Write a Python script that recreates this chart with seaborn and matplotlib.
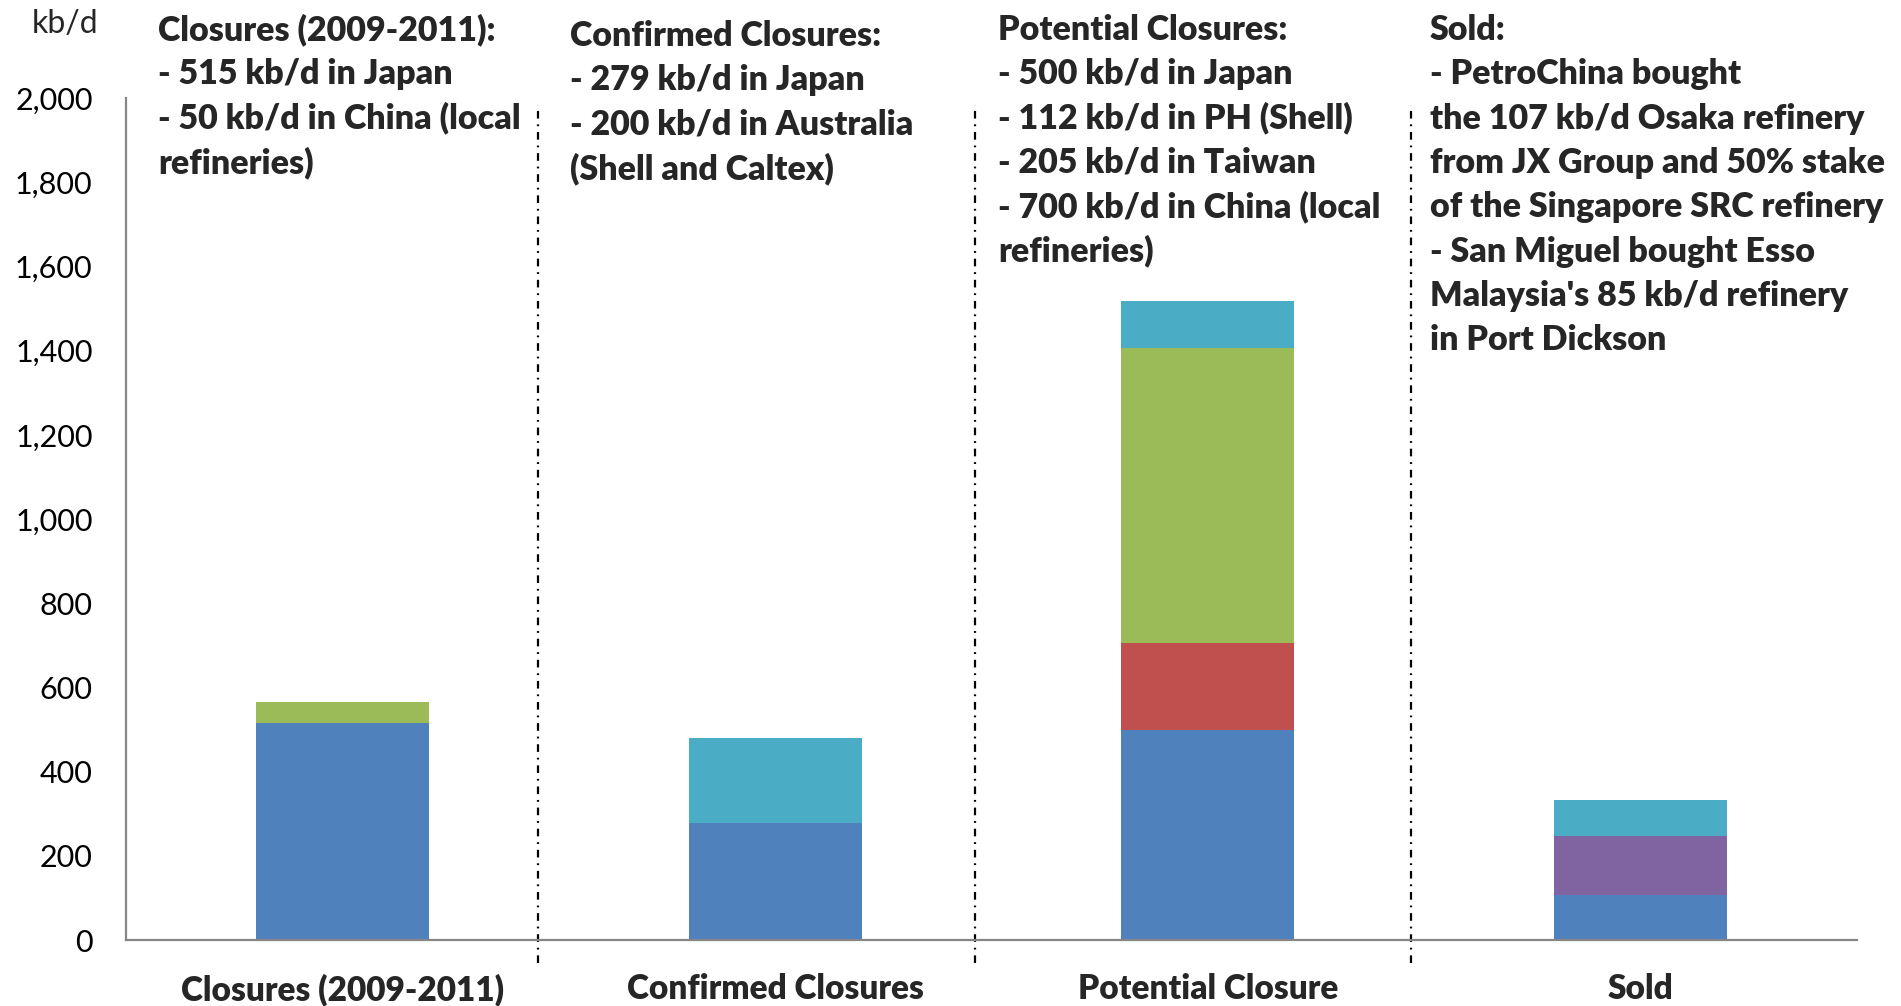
import matplotlib
matplotlib.use("Agg")
import matplotlib.pyplot as plt
from matplotlib.ticker import FuncFormatter, FixedLocator
import numpy as np
import pandas as pd
import seaborn as sns

# ---- data (kb/d) ----
categories = ["Closures (2009-2011)", "Confirmed Closures", "Potential Closure", "Sold"]
japan = [515, 279, 500, 107]
taiwan = [0, 0, 205, 0]
china = [50, 0, 700, 0]
singapore_stake = [0, 0, 0, 140]
other = [0, 200, 112, 85]

layers = [japan, taiwan, china, singapore_stake, other]
layer_colors = ["#4F81BD", "#C0504D", "#9BBB59", "#8064A2", "#4BACC6"]

y_ticks = list(range(0, 2001, 200))

notes = [
    ["Closures (2009-2011):", "- 515 kb/d in Japan", "- 50 kb/d in China (local", "refineries)"],
    ["Confirmed Closures:", "- 279 kb/d in Japan", "- 200 kb/d in Australia", "(Shell and Caltex)"],
    ["Potential Closures:", "- 500 kb/d in Japan", "- 112 kb/d in PH (Shell)", "- 205 kb/d in Taiwan",
     "- 700 kb/d in China (local", "refineries)"],
    ["Sold:", "- PetroChina bought", "the 107 kb/d Osaka refinery", "from JX Group and 50% stake",
     "of the Singapore SRC refinery", "- San Miguel bought Esso", "Malaysia's 85 kb/d refinery",
     "in Port Dickson"],
]

# ---- styling ----
sns.set_style("white")
plt.rcParams["font.family"] = ["Lato", "DejaVu Sans"]
plt.rcParams["lines.scale_dashes"] = False

W, H, DPI = 1901, 1006, 100
fig = plt.figure(figsize=(W / DPI, H / DPI), dpi=DPI)
ax_left, ax_right, ax_bottom, ax_top = 126, 1857, 940, 98
ax = fig.add_axes([ax_left / W, 1 - ax_bottom / H, (ax_right - ax_left) / W, (ax_bottom - ax_top) / H])

# ---- stacked bars: draw cumulative totals from the top layer down ----
cum = np.cumsum(np.array(layers, dtype=float), axis=0)
for i in range(len(layers) - 1, -1, -1):
    vals = np.array(layers[i], dtype=float)
    df = pd.DataFrame({"category": categories, "total": np.where(vals > 0, cum[i], np.nan)}).dropna()
    sns.barplot(data=df, x="category", y="total", order=categories, color=layer_colors[i],
                saturation=1, width=0.4, errorbar=None, linewidth=0, ax=ax)

ax.set_xlabel("")
ax.set_ylabel("")
ax.set_xlim(-0.5, len(categories) - 0.5)
ax.set_ylim(0, 2000)

# axes lines and ticks
axis_grey = "#868686"
for side in ["top", "right"]:
    ax.spines[side].set_visible(False)
for side in ["left", "bottom"]:
    ax.spines[side].set_color(axis_grey)
    ax.spines[side].set_linewidth(1.6)

ax.set_yticks(y_ticks)
ax.yaxis.set_major_formatter(FuncFormatter(lambda v, p: f"{int(v):,}"))
ax.tick_params(axis="y", direction="out", length=8, width=1.5, color=axis_grey,
               labelsize=22, pad=16, labelcolor="black")

ax.set_xticks(range(len(categories)))
ax.set_xticklabels(categories, fontsize=24, fontweight="heavy")
ax.xaxis.set_minor_locator(FixedLocator(np.arange(-0.5, len(categories), 1.0)))
ax.tick_params(axis="x", which="major", length=0, pad=24)
ax.tick_params(axis="x", which="minor", direction="out", length=9, width=1.5, color=axis_grey)

# unit label
fig.text(65 / W, 1 - 24 / H, "kb/d", fontsize=23, ha="center", va="center")

# dash-dot dividers between groups
divider_x = [0.453, 1.463, 2.469]
for xd in divider_x:
    ax.plot([xd, xd], [-55, 1983], color="black", lw=1.6,
            ls=(0, (5.5, 4.2, 1.3, 4.2)), clip_on=False)

# group notes
note_x = [158, 570, 998, 1430]
note_first_baseline = [40, 46, 40, 40]
line_step = 44.3
for lines, xpx, y0 in zip(notes, note_x, note_first_baseline):
    for k, line in enumerate(lines):
        fig.text(xpx / W, 1 - (y0 + k * line_step) / H, line, fontsize=24.5,
                 fontweight="heavy", ha="left", va="baseline")

fig.savefig("out.png", dpi=DPI)
